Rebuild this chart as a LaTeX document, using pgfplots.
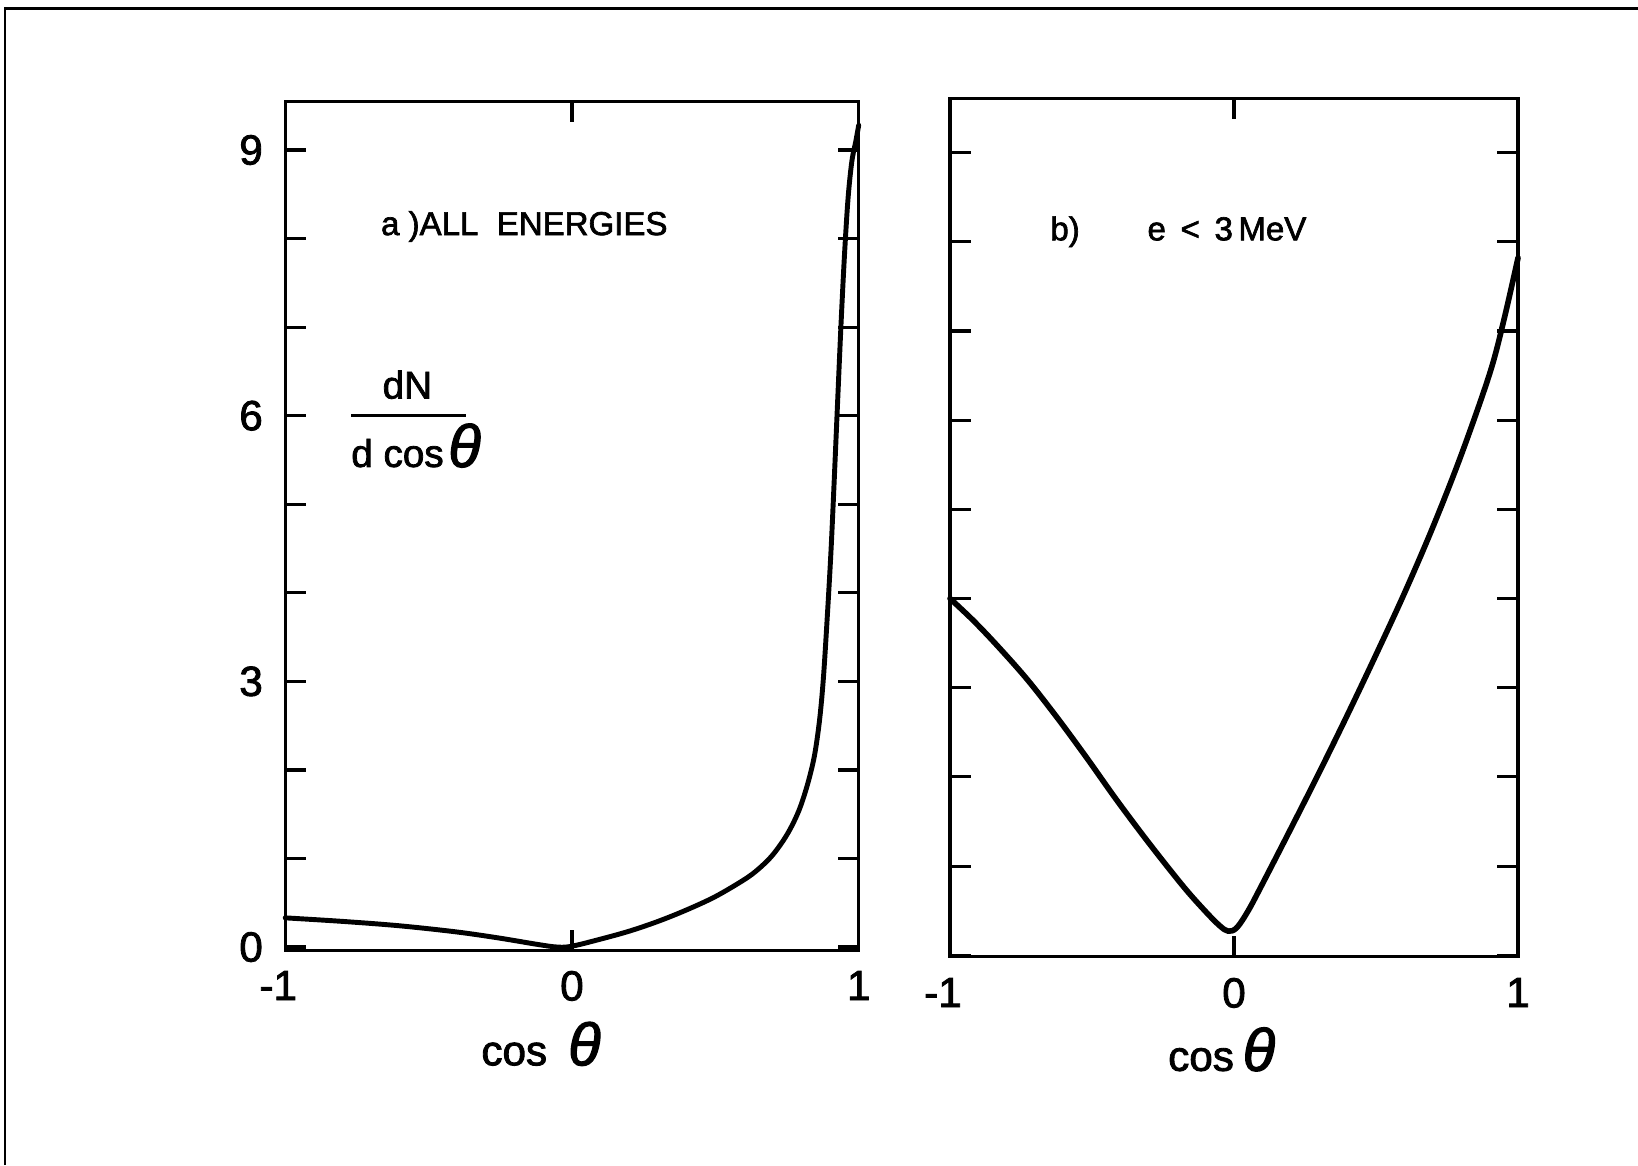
\documentclass[border=0pt]{standalone}
\usepackage{fontspec}
\setmainfont{Liberation Sans}[UprightFeatures={FakeBold=2}, ItalicFeatures={FakeBold=2}]
\usepackage{pgfplots}
\usepackage{pgfplotstable}
\pgfplotsset{compat=1.18}

% angular distribution, all energies
\pgfplotstableread{
x      y
-1.00  0.33
-0.80  0.29
-0.60  0.24
-0.40  0.17
-0.25  0.10
-0.12  0.03
-0.05  0.00
 0.00  0.01
 0.10  0.09
 0.20  0.18
 0.30  0.29
 0.40  0.42
 0.50  0.57
 0.60  0.76
 0.65  0.88
 0.70  1.04
 0.75  1.27
 0.79  1.53
 0.82  1.82
 0.845 2.15
 0.863 2.55
 0.876 3.00
 0.888 3.60
 0.903 4.45
 0.915 5.30
 0.927 6.20
 0.939 7.08
 0.951 7.85
 0.963 8.46
 0.976 8.87
 0.99  9.10
 1.00  9.28
}\allenergies

% angular distribution, e < 3 MeV
\pgfplotstableread{
x      y
-1.00  4.00
-0.92  3.76
-0.836 3.48
-0.73  3.10
-0.624 2.67
-0.52  2.22
-0.413 1.74
-0.30  1.26
-0.178 0.77
-0.10  0.49
-0.05  0.33
-0.02  0.27
 0.01  0.31
 0.05  0.50
 0.10  0.80
 0.20  1.42
 0.30  2.05
 0.40  2.70
 0.50  3.37
 0.60  4.06
 0.70  4.80
 0.80  5.61
 0.90  6.52
 0.95  7.12
 1.00  7.82
}\lowenergy

\pgfplotsset{
  panel/.style={
    scale only axis, anchor=south west, clip=false,
    xmin=-1, xmax=1,
    axis line style={line width=0.9pt},
    every tick/.style={black, line width=0.9pt},
    tick align=inside,
    major tick length=2.1mm,
    xtick={-1,0,1},
    xticklabels={\llap{-}1,0,1},
    ytick={0,1,...,9},
    /pgf/number format/assume math mode=true,
    xticklabel style={font=\fontsize{12}{14}\selectfont, yshift=-0.8mm},
    yticklabel style={font=\fontsize{12}{14}\selectfont, xshift=-1.0mm},
  },
  curve/.style={black, line width=1.5pt, smooth, tension=0.55, line join=round, line cap=round},
}
\tikzset{lettering/.style={inner sep=0pt, font=\fontsize{9.4}{11}\selectfont}}

% axis title: cos theta, with a given gap between the two words
\newcommand{\costheta}[1]{{\fontsize{12}{14}\selectfont cos}\hspace{#1}{\fontsize{17}{19}\selectfont\itshape θ}}

\begin{document}
\begin{tikzpicture}
\path[use as bounding box] (0,0) rectangle (163.8mm,116.5mm);
% page frame
\draw[line width=0.25mm] (0.52mm,0) -- (0.52mm,115.66mm) -- (163.8mm,115.66mm);

% (a) all energies
\begin{axis}[panel, at={(28.52mm,21.44mm)}, width=57.35mm, height=84.93mm,
  ymin=-0.04, ymax=9.55,
  yticklabels={0,,,3,,,6,,,9}]
  \addplot[curve, line width=1.4pt] table[x=x, y=y] {\allenergies};
  \node[lettering, anchor=base west] at (rel axis cs:0.166,0.8425) {a )ALL\ \ ENERGIES};
  \node[inner sep=0pt, anchor=base, font=\fontsize{11}{13}\selectfont] at (rel axis cs:0.213,0.650) {dN};
  \draw[line width=0.7pt] (rel axis cs:0.115,0.630) -- (rel axis cs:0.315,0.630);
  \node[inner sep=0pt, anchor=base west, font=\fontsize{11}{13}\selectfont] at (rel axis cs:0.114,0.5695) {d cos\hspace{0.12em}{\fontsize{17}{19}\selectfont\itshape θ}};
  \node[inner sep=0pt, anchor=base west] at (rel axis cs:0.341,-0.135) {\costheta{0.6em}};
\end{axis}

% (b) e < 3 MeV
\begin{axis}[panel, at={(95.0mm,20.84mm)}, width=56.8mm, height=85.84mm,
  ymin=-0.015, ymax=9.61,
  yticklabels={},
  xticklabel style={yshift=-0.1mm}]
  \addplot[curve, line width=1.6pt] table[x=x, y=y] {\lowenergy};
  \node[lettering, anchor=base west] at (rel axis cs:0.1755,0.8345) {b)};
  \node[lettering, anchor=base west] at (rel axis cs:0.3465,0.8345) {e \,<\, 3\,MeV};
  \node[inner sep=0pt, anchor=base west] at (rel axis cs:0.383,-0.133) {\costheta{0.25em}};
\end{axis}
\end{tikzpicture}
\end{document}
